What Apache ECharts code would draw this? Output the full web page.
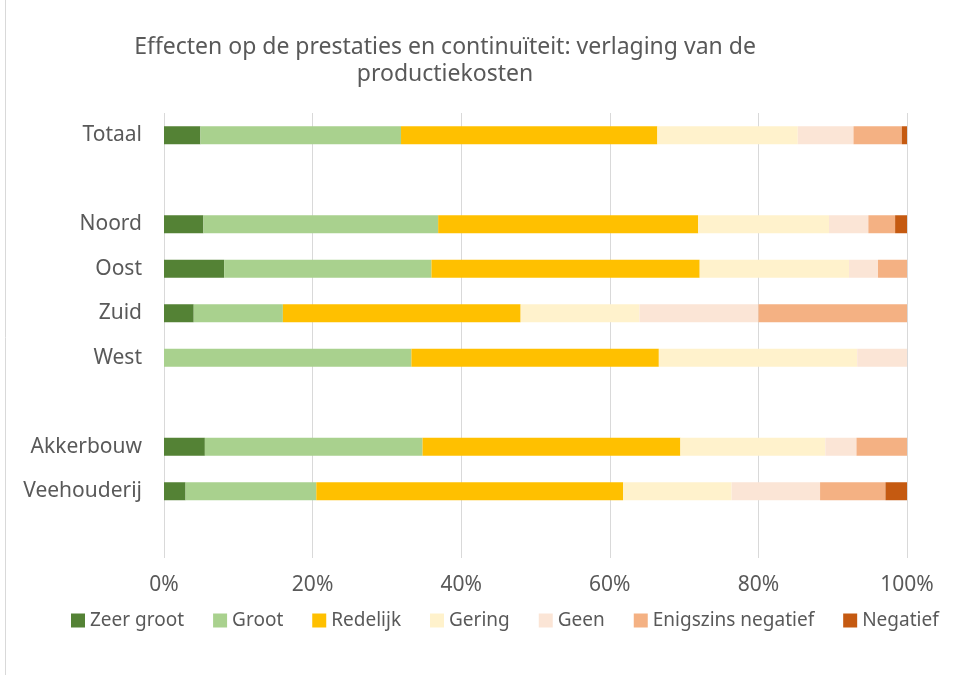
<!DOCTYPE html>
<html>
<head>
<meta charset="utf-8">
<script src="https://cdn.jsdelivr.net/npm/echarts@6/dist/echarts.min.js"></script>
<style>
  html, body { margin: 0; padding: 0; background: #fff; }
  #chart { width: 953px; height: 675px; }
</style>
</head>
<body>
<div id="chart"></div>
<script>
// categories, top to bottom (blank rows are spacers)
const categories = ['Totaal', ' ', 'Noord', 'Oost', 'Zuid', 'West', '  ', 'Akkerbouw', 'Veehouderij', '   '];
const seriesNames = ['Zeer groot', 'Groot', 'Redelijk', 'Gering', 'Geen', 'Enigszins negatief', 'Negatief'];
const colors = ['#548235', '#A9D18E', '#FFC000', '#FFF2CC', '#FBE5D6', '#F4B183', '#C55A11'];

// percentages per series, same order as categories
const zeerGroot = [4.9, '-', 5.3, 8.1, 4, 0, '-', 5.5, 2.9, '-'];
const groot     = [27.0, '-', 31.6, 27.9, 12, 33.3, '-', 29.3, 17.6, '-'];
const redelijk  = [34.5, '-', 35.0, 36.1, 32, 33.3, '-', 34.7, 41.3, '-'];
const gering    = [18.9, '-', 17.6, 20.1, 16, 26.7, '-', 19.5, 14.6, '-'];
const geen      = [7.5, '-', 5.3, 3.9, 16, 6.7, '-', 4.2, 11.9, '-'];
const enigszins = [6.5, '-', 3.6, 3.9, 20, 0, '-', 6.8, 8.8, '-'];
const negatief  = [0.7, '-', 1.6, 0, 0, 0, '-', 0, 2.9, '-'];

const xTicks = [0, 20, 40, 60, 80, 100];

const allData = [zeerGroot, groot, redelijk, gering, geen, enigszins, negatief];

const chart = echarts.init(document.getElementById('chart'));

const txt = '#595959';
const font = 'Noto Sans';

chart.setOption({
  animation: false,
  textStyle: { fontFamily: font, color: txt },
  title: {
    text: 'Effecten op de prestaties en continuïteit: verlaging van de\nproductiekosten',
    left: 440,
    textAlign: 'center',
    top: 29,
    textStyle: { fontFamily: font, fontWeight: 'normal', fontSize: 23, color: txt, lineHeight: 27 }
  },
  graphic: [{
    type: 'rect',
    shape: { x: 5.5, y: -2, width: 960, height: 690 },
    style: { fill: 'none', stroke: '#d9d9d9', lineWidth: 1 },
    silent: true
  }],
  legend: {
    data: seriesNames,
    bottom: 40,
    left: 66,
    itemWidth: 14,
    itemHeight: 14,
    itemGap: 29,
    icon: 'rect',
    textStyle: { fontFamily: font, fontSize: 19, color: txt }
  },
  grid: { left: 164, right: 46, top: 113, bottom: 117 },
  xAxis: {
    type: 'value',
    min: xTicks[0],
    max: xTicks[xTicks.length - 1],
    interval: 20,
    axisLine: { show: false },
    axisTick: { show: false },
    splitLine: { lineStyle: { color: '#d9d9d9', width: 1 } },
    axisLabel: { formatter: '{value}%', fontSize: 21, color: txt, fontFamily: font, margin: 17 }
  },
  yAxis: {
    type: 'category',
    inverse: true,
    data: categories,
    axisLine: { show: false },
    axisTick: { show: false },
    axisLabel: { fontSize: 21, color: txt, fontFamily: font, margin: 22 }
  },
  series: seriesNames.map((name, i) => ({
    name: name,
    type: 'bar',
    stack: 'total',
    barWidth: 18,
    itemStyle: { color: colors[i] },
    data: allData[i]
  }))
});
</script>
</body>
</html>
